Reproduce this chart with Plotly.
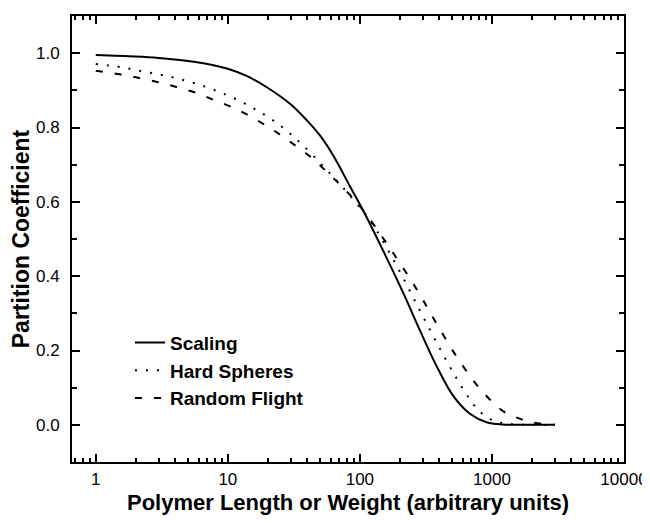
"""
Partition coefficient vs polymer length for three chain models
"""

import plotly.graph_objects as go

# Scaling model (solid)
scaling_n = [1, 2, 3, 5, 7, 10, 14, 20, 30, 40, 50, 63, 84, 112,
             159, 213, 285, 381, 509, 681, 912, 1200, 2000, 3000]
scaling_k = [0.995, 0.991, 0.987, 0.979, 0.971, 0.958, 0.938, 0.907, 0.862, 0.818,
             0.778, 0.724, 0.642, 0.560, 0.450, 0.355, 0.254, 0.158, 0.078, 0.030,
             0.007, 0.001, 0.0, 0.0]

# Hard spheres model (dotted)
hard_n = [1, 1.24, 1.52, 1.86, 2.28, 2.8, 3.39, 4.13, 5.0, 6.14, 7.47, 9.1, 11.1,
          13.5, 16.5, 20.2, 24.8, 29.5, 37, 54, 75, 119, 190, 285, 404, 540, 661,
          787, 1000, 1300, 2000, 3000]
hard_k = [0.971, 0.967, 0.963, 0.957, 0.951, 0.945, 0.939, 0.932, 0.924, 0.915,
          0.904, 0.892, 0.879, 0.864, 0.847, 0.828, 0.806, 0.784, 0.752, 0.692,
          0.637, 0.550, 0.428, 0.307, 0.205, 0.125, 0.075, 0.040, 0.013, 0.003,
          0.0, 0.0]

# Random flight model (dashed)
flight_n = [1, 1.52, 2.09, 2.97, 4.08, 5.79, 7.97, 11.2, 15.5, 21.4, 29.5, 42,
            57.6, 79.5, 106, 169, 269, 381, 572, 835, 1220, 1585, 2050, 3000]
flight_k = [0.953, 0.943, 0.934, 0.922, 0.909, 0.893, 0.873, 0.852, 0.826, 0.796,
            0.762, 0.722, 0.677, 0.628, 0.577, 0.475, 0.365, 0.272, 0.170, 0.092,
            0.036, 0.018, 0.006, 0.0]

x_tickvals = [1, 10, 100, 1000, 10000]
x_ticktext = ["1", "10", "100", "1000", "10000"]

FONT = "Arial, Liberation Sans, sans-serif"

fig = go.Figure()

series = [
    ("Scaling", scaling_n, scaling_k, "solid"),
    ("Hard Spheres", hard_n, hard_k, "2px,9px"),
    ("Random Flight", flight_n, flight_k, "7px,12px"),
]
for name, n, k, dash in series:
    fig.add_trace(go.Scatter(
        x=n, y=k, name=name, mode="lines",
        line=dict(color="black", width=2, dash=dash, shape="spline", smoothing=1),
    ))

axis_common = dict(
    showline=True, linecolor="black", linewidth=2, mirror="ticks",
    ticks="inside", tickcolor="black", tickwidth=1.5, ticklen=8,
    showgrid=False, zeroline=False,
    tickfont=dict(family=FONT, size=17, color="black"),
)

fig.update_xaxes(
    type="log", range=[-0.18, 4],
    tickvals=x_tickvals, ticktext=x_ticktext,
    minor=dict(ticks="inside", ticklen=4, dtick="D1", tickcolor="black", tickwidth=1.5),
    title=dict(text="Polymer Length or Weight (arbitrary units)",
               font=dict(family=FONT, size=22, color="black", weight="bold"),
               standoff=6),
    ticklabelstandoff=1,
    **axis_common,
)
fig.update_yaxes(
    range=[-0.1, 1.1], dtick=0.2, tickformat=".1f",
    minor=dict(ticks="inside", ticklen=5, dtick=0.1, tickcolor="black", tickwidth=1.5),
    title=dict(text="Partition Coefficient",
               font=dict(family=FONT, size=23, color="black", weight="bold"),
               standoff=0),
    ticklabelstandoff=7,
    **axis_common,
)

# page body adds 8px offset, so margins are trimmed on left/top
fig.update_layout(
    width=650, height=523,
    margin=dict(l=64, r=34, t=6, b=69),
    plot_bgcolor="white", paper_bgcolor="white",
    legend=dict(
        x=0.105, y=0.31, xanchor="left", yanchor="top",
        bgcolor="rgba(0,0,0,0)",
        font=dict(family=FONT, size=19, color="black", weight="bold"),
        tracegroupgap=0,
    ),
)

fig.write_html("out.html")
